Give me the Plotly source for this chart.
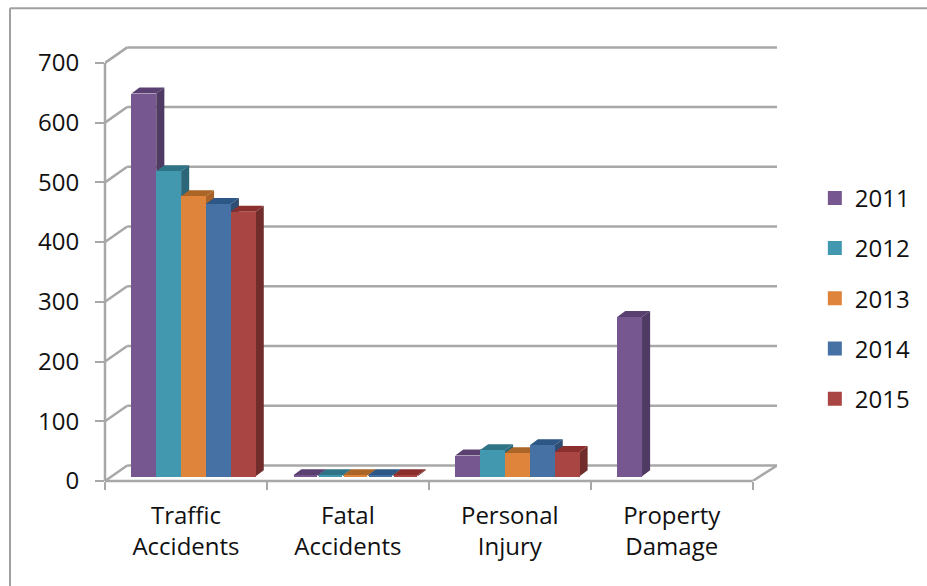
import plotly.graph_objects as go

categories = ["Traffic<br>Accidents", "Fatal<br>Accidents", "Personal<br>Injury", "Property<br>Damage"]
years = ["2011", "2012", "2013", "2014", "2015"]
v2011 = [639, 0, 33, 265]
v2012 = [509, 0, 42, None]
v2013 = [467, 0, 37, None]
v2014 = [454, 0, 50, None]
v2015 = [441, 0, 39, None]
series = [v2011, v2012, v2013, v2014, v2015]
y_ticks = [0, 100, 200, 300, 400, 500, 600, 700]

front = ["#77578F", "#4198AF", "#DE843B", "#4671A5", "#A94543"]
top = ["#5A4070", "#2F7486", "#AB6527", "#2D5784", "#8A2F2D"]
side = ["#4E3A62", "#2B6778", "#A96228", "#2F4C72", "#702D2C"]

GRID = "#A8A8A8"
FONT = "Open Sans"
XMAX, YMAX = 4.15, 735
WALL_X, WALL_Y = 0.137, 26
BAR_STEP, BAR_OFF, BAR_FLOOR = 0.1535, -0.337, 8
EDGE_X, EDGE_Y = 0.0062, 1.7
DX, DY = 0.05, 10

fig = go.Figure()
centers = [i + 0.5 for i in range(len(categories))]
shapes = []


def line(x0, y0, x1, y1, **kw):
    d = dict(type="line", x0=x0, y0=y0, x1=x1, y1=y1, xref="x", yref="y", layer="below",
             line=dict(color=GRID, width=2.5))
    d.update(kw)
    shapes.append(d)


for t in y_ticks:
    line(0, t, WALL_X, t + WALL_Y)
    line(WALL_X, t + WALL_Y, XMAX, t + WALL_Y)
line(4, 0, XMAX, WALL_Y)
line(0, 0, 0, 700, xref="paper")
line(0, 0, 4 / XMAX, 0, xref="paper", yref="paper")


def poly(pts, color):
    path = "M " + " L ".join(f"{x},{y}" for x, y in pts) + " Z"
    shapes.append(dict(type="path", path=path, xref="x", yref="y", layer="below",
                       fillcolor=color, line=dict(width=0)))


for c, cx in enumerate(centers):
    for s, vals in enumerate(series):
        v = vals[c]
        if v is None:
            continue
        x0 = cx + BAR_OFF + s * BAR_STEP
        x1 = x0 + BAR_STEP
        t = BAR_FLOOR + v + EDGE_Y
        poly([(x1, BAR_FLOOR), (x1, t), (x1 + DX, t + DY), (x1 + DX, BAR_FLOOR + DY)], side[s])
        poly([(x0, t), (x1, t), (x1 + DX, t + DY), (x0 + DX, t + DY)], top[s])

for s, vals in enumerate(series):
    fig.add_trace(go.Bar(
        x=centers, y=vals, base=BAR_FLOOR, name=years[s], width=BAR_STEP - 2 * EDGE_X,
        offset=BAR_OFF + s * BAR_STEP + EDGE_X,
        marker=dict(color=front[s], line=dict(width=2, color=front[s])),
        legendgroup=years[s],
    ))

# frame of the chart area: top and left edges only
shapes.append(dict(type="line", xref="paper", yref="paper", x0=-95 / 672, x1=822 / 672,
                   y0=1.077, y1=1.077, line=dict(color="#A0A0A0", width=2)))
shapes.append(dict(type="line", xref="paper", yref="paper", x0=-95 / 672, x1=-95 / 672,
                   y0=1.077, y1=-0.24, line=dict(color="#A0A0A0", width=2)))

fig.update_layout(
    width=927, height=586, autosize=False,
    margin=dict(l=105, r=150, t=42, b=105),
    paper_bgcolor="white", plot_bgcolor="white",
    barmode="overlay", shapes=shapes,
    font=dict(family=FONT, size=24, color="#111111"),
    xaxis=dict(range=[0, XMAX], tickmode="array", tickvals=centers, ticktext=categories,
               ticks="", showgrid=False, zeroline=False, showline=False, fixedrange=True,
               ticklabelstandoff=18,
               minor=dict(tickmode="array", tickvals=[0, 1, 2, 3, 4], ticks="outside", ticklen=8,
                          tickwidth=2, tickcolor=GRID, showgrid=False)),
    yaxis=dict(range=[0, YMAX], tickmode="array", tickvals=y_ticks, ticks="outside", ticklen=9,
               tickwidth=2, tickcolor=GRID, showgrid=False, zeroline=False, showline=False,
               fixedrange=True, ticklabelstandoff=11),
    legend=dict(xref="container", yref="container", x=0.879, y=0.70, xanchor="left", yanchor="top",
                tracegroupgap=16, bgcolor="rgba(0,0,0,0)",
                font=dict(family=FONT, size=24, color="#111111")),
    bargap=0,
)

fig.write_html("out.html", config=dict(displayModeBar=False),
               post_script="document.body.style.margin='0';")
